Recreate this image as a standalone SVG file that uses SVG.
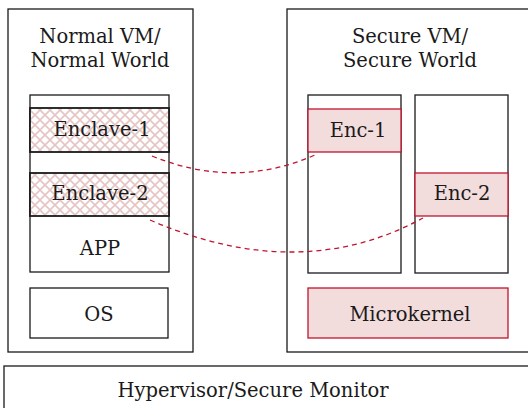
<svg xmlns="http://www.w3.org/2000/svg" width="528" height="408" viewBox="0 0 528 408">
<style>
.box{fill:#fff;stroke:#1a1a1a;stroke-width:1.3}
.red{fill:#f2dcdc;stroke:#c0142e;stroke-width:1.3}
.enc{fill:url(#hatch);stroke:#1a1a1a;stroke-width:1.8}
.t{font-family:'DejaVu Serif',serif;font-size:19.5px;fill:#1a1a1a;text-anchor:middle}
.conn{fill:none;stroke:#c0142e;stroke-width:1.3;stroke-dasharray:5,4}
</style>
<defs>
<pattern id="hatch" patternUnits="userSpaceOnUse" width="10" height="10">
<rect width="10" height="10" fill="#fff"/>
<path d="M0,0 L10,10 M10,0 L0,10" stroke="#e6c4c4" stroke-width="1.6"/>
</pattern>
</defs>
<g id="normal-vm">
<rect class="box" x="8" y="9" width="185" height="343"/>
<text class="t" x="100" y="43">Normal VM/</text>
<text class="t" x="100" y="67">Normal World</text>
</g>
<g id="app">
<rect class="box" x="30" y="95" width="139" height="177"/>
<text class="t" x="100" y="255">APP</text>
</g>
<g id="enclave-1">
<rect class="enc" x="30" y="108" width="139" height="44"/>
<text class="t" x="102" y="136">Enclave-1</text>
</g>
<g id="enclave-2">
<rect class="enc" x="30" y="173" width="139" height="43"/>
<text class="t" x="100" y="200">Enclave-2</text>
</g>
<g id="os">
<rect class="box" x="30" y="288" width="138" height="50"/>
<text class="t" x="99" y="321">OS</text>
</g>
<g id="secure-vm">
<rect class="box" x="287" y="9" width="245" height="343"/>
<text class="t" x="410" y="43">Secure VM/</text>
<text class="t" x="410" y="67">Secure World</text>
</g>
<g id="col-1">
<rect class="box" x="308" y="95" width="93" height="178"/>
</g>
<g id="col-2">
<rect class="box" x="415" y="95" width="93" height="178"/>
</g>
<g id="enc-1">
<rect class="red" x="308" y="109" width="93" height="43"/>
<text class="t" x="358" y="137">Enc-1</text>
</g>
<g id="enc-2">
<rect class="red" x="415" y="173" width="93" height="43"/>
<text class="t" x="462" y="200">Enc-2</text>
</g>
<g id="microkernel">
<rect class="red" x="308" y="288" width="200" height="50"/>
<text class="t" x="410" y="321">Microkernel</text>
</g>
<g id="hypervisor">
<rect class="box" x="4" y="366" width="530" height="50"/>
<text class="t" x="253" y="397">Hypervisor/Secure Monitor</text>
</g>
<g id="connectors">
<path class="conn" d="M152,156 Q235,190 315,155"/>
<path class="conn" d="M150,220 Q300,285 423,218"/>
</g>
</svg>
